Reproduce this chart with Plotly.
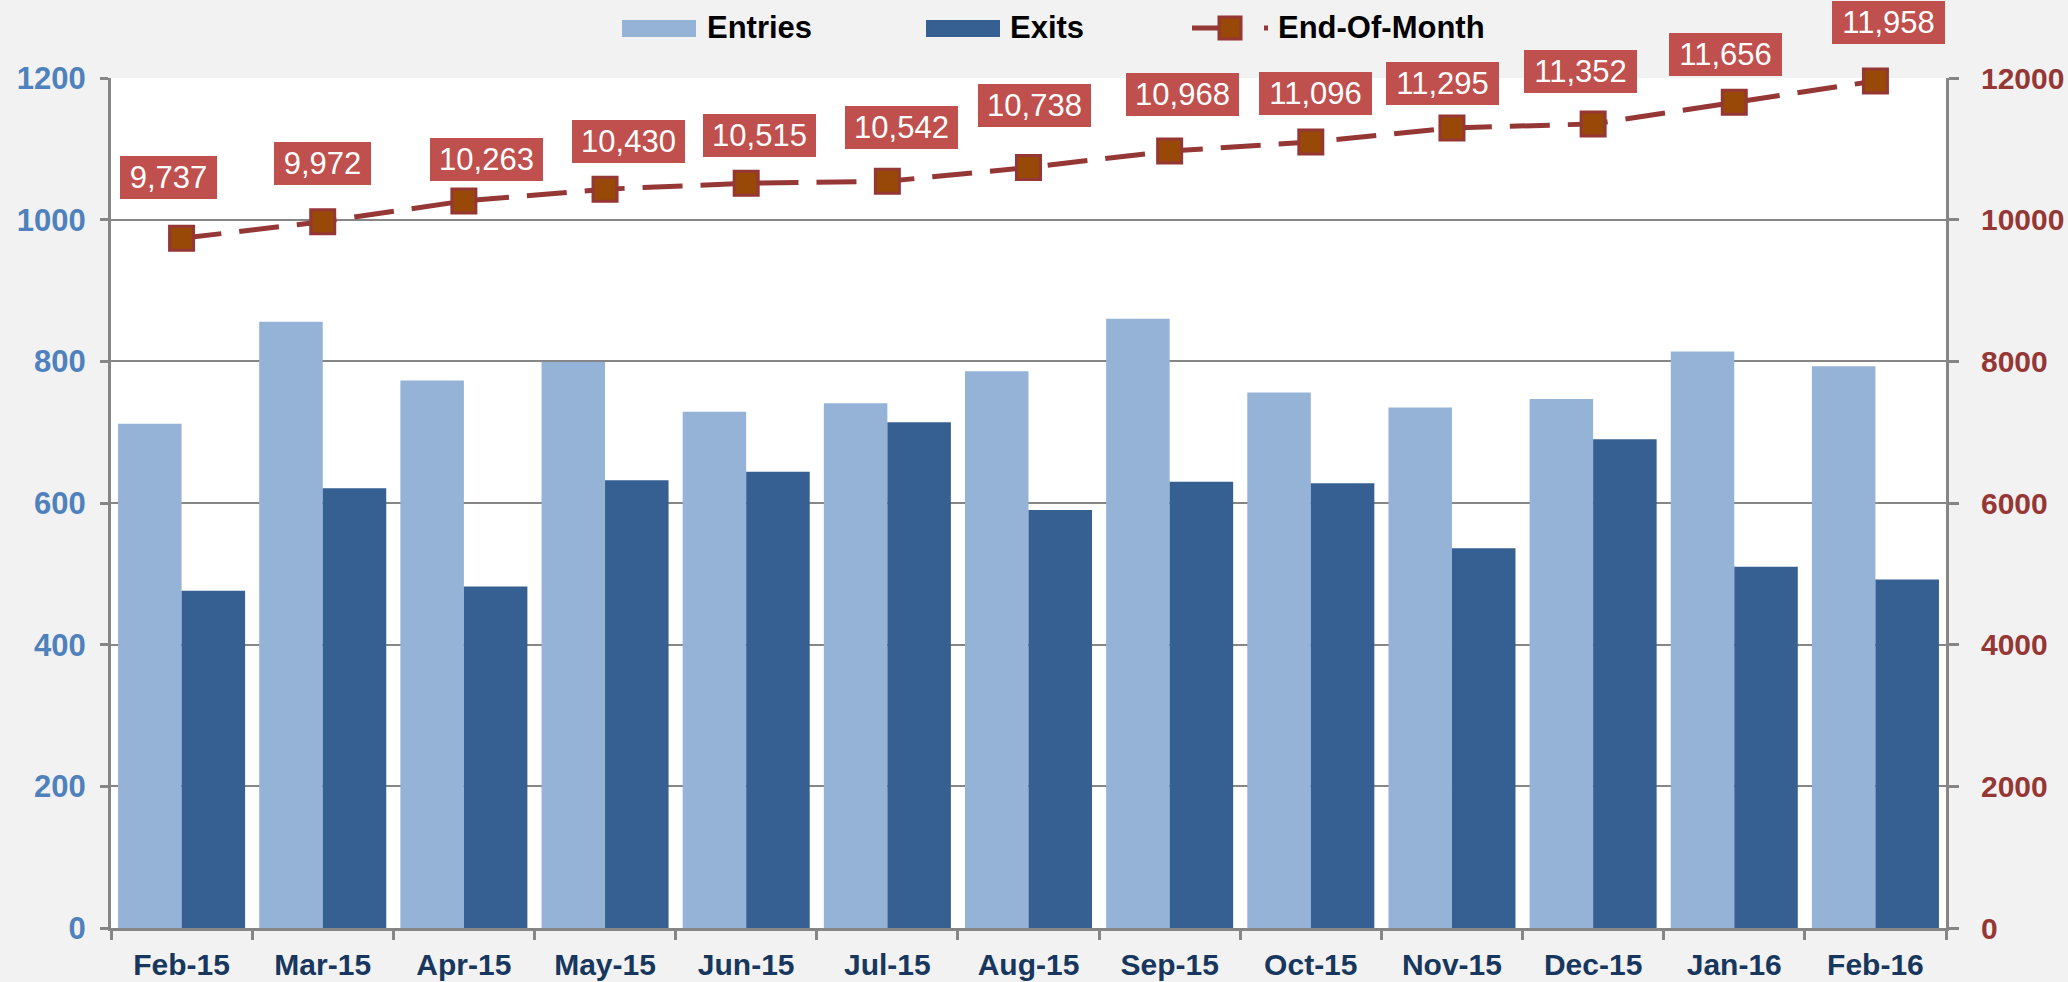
import plotly.graph_objects as go

# ---------------- data ----------------
months = ["Feb-15", "Mar-15", "Apr-15", "May-15", "Jun-15", "Jul-15", "Aug-15",
          "Sep-15", "Oct-15", "Nov-15", "Dec-15", "Jan-16", "Feb-16"]
entries = [712, 856, 773, 799, 729, 741, 786, 860, 756, 735, 747, 814, 793]
exits = [476, 621, 482, 632, 644, 714, 590, 630, 628, 536, 690, 510, 492]
end_of_month = [9737, 9972, 10263, 10430, 10515, 10542, 10738, 10968, 11096,
                11295, 11352, 11656, 11958]

# label placement offsets (pixels) for the End-Of-Month data labels
label_dx = [-13, 0, 23, 23, 13, 14, 6, 13, 5, -9, -13, -9, 13]
label_dy = [61, 58, 42, 48, 48, 54, 62, 57, 49, 44, 52, 48, 58]

# ---------------- layout constants ----------------
W, H = 2068, 982
ML, MR, MT, MB = 111, 122, 78, 54
FONT = "Liberation Sans, Arial, sans-serif"
C_ENTRIES = "#95B3D7"
C_EXITS = "#366092"
C_LINE = "#953735"
C_MARK = "#984807"
C_LABEL = "#C0504D"
C_GRID = "#868686"


def px2x(px):
    return (px - ML) / (W - ML - MR)


def py2y(py):
    return (H - MB - py) / (H - MT - MB)


fig = go.Figure()
fig.add_trace(go.Bar(x=months, y=entries, name="Entries",
                     marker=dict(color=C_ENTRIES, line=dict(width=0)),
                     showlegend=False))
fig.add_trace(go.Bar(x=months, y=exits, name="Exits",
                     marker=dict(color=C_EXITS, line=dict(width=0)),
                     showlegend=False))
fig.add_trace(go.Scatter(x=months, y=end_of_month, name="End-Of-Month", yaxis="y2",
                         mode="lines+markers",
                         line=dict(color=C_LINE, width=5, dash="40px,18px"),
                         marker=dict(symbol="square", size=24, color=C_MARK,
                                     line=dict(color=C_LINE, width=3)),
                         showlegend=False, cliponaxis=False))

annotations = []
for m, v, dx, dy in zip(months, end_of_month, label_dx, label_dy):
    txt = f"{v:,}"
    annotations.append(dict(
        x=m, y=v, xref="x", yref="y2", text=txt, showarrow=False,
        xshift=dx, yshift=dy, bgcolor=C_LABEL, borderpad=6, borderwidth=0,
        width=101 if len(txt) > 5 else 85, height=31,
        font=dict(family=FONT, size=31, color="white")))

# ---------- manual legend ----------
shapes = []
leg_y = 28
# Entries
shapes.append(dict(type="rect", xref="paper", yref="paper",
                   x0=px2x(622), x1=px2x(696), y0=py2y(37), y1=py2y(20),
                   fillcolor=C_ENTRIES, line=dict(width=0)))
annotations.append(dict(x=px2x(705), y=py2y(leg_y), xref="paper", yref="paper",
                        xanchor="left", yanchor="middle", showarrow=False,
                        text="<b>Entries</b>", font=dict(family=FONT, size=31, color="black")))
# Exits
shapes.append(dict(type="rect", xref="paper", yref="paper",
                   x0=px2x(926), x1=px2x(1000), y0=py2y(37), y1=py2y(20),
                   fillcolor=C_EXITS, line=dict(width=0)))
annotations.append(dict(x=px2x(1008), y=py2y(leg_y), xref="paper", yref="paper",
                        xanchor="left", yanchor="middle", showarrow=False,
                        text="<b>Exits</b>", font=dict(family=FONT, size=31, color="black")))
# End-Of-Month
shapes.append(dict(type="line", xref="paper", yref="paper",
                   x0=px2x(1192), x1=px2x(1236), y0=py2y(leg_y), y1=py2y(leg_y),
                   line=dict(color=C_LINE, width=5)))
shapes.append(dict(type="line", xref="paper", yref="paper",
                   x0=px2x(1264), x1=px2x(1268), y0=py2y(leg_y), y1=py2y(leg_y),
                   line=dict(color=C_LINE, width=5)))
shapes.append(dict(type="rect", xref="paper", yref="paper",
                   x0=px2x(1219), x1=px2x(1241), y0=py2y(leg_y + 11), y1=py2y(leg_y - 11),
                   fillcolor=C_MARK, line=dict(color=C_LINE, width=3)))
annotations.append(dict(x=px2x(1276), y=py2y(leg_y), xref="paper", yref="paper",
                        xanchor="left", yanchor="middle", showarrow=False,
                        text="<b>End-Of-Month</b>", font=dict(family=FONT, size=31, color="black")))

fig.update_layout(
    width=W, height=H,
    margin=dict(l=ML, r=MR, t=MT, b=MB, pad=0),
    paper_bgcolor="#F2F2F2", plot_bgcolor="white",
    barmode="group", bargap=0.1, bargroupgap=0,
    showlegend=False,
    annotations=annotations, shapes=shapes,
    xaxis=dict(type="category", range=[-0.5, len(months) - 0.5],
               showline=True, linecolor=C_GRID, linewidth=3,
               ticks="outside", tickson="boundaries", ticklen=9, tickwidth=3,
               tickcolor=C_GRID, showgrid=False, automargin=False, ticklabelstandoff=8,
               tickfont=dict(family=FONT, size=30, color="#17375E", weight="bold")),
    yaxis=dict(range=[0, 1200], dtick=200, showline=True, linecolor=C_GRID, linewidth=3,
               ticks="outside", ticklen=8, tickwidth=3, tickcolor=C_GRID,
               showgrid=True, gridcolor=C_GRID, gridwidth=2, zeroline=False,
               automargin=False, ticklabelstandoff=8,
               tickfont=dict(family=FONT, size=31, color="#4F81BD", weight="bold")),
    yaxis2=dict(range=[0, 12000], dtick=2000, tickformat="d", overlaying="y", side="right",
                showline=True, linecolor=C_GRID, linewidth=3,
                ticks="outside", ticklen=10, tickwidth=3, tickcolor=C_GRID,
                showgrid=False, zeroline=False, automargin=False, ticklabelstandoff=16,
                tickfont=dict(family=FONT, size=30, color=C_LINE, weight="bold")),
)

fig.write_html("out.html", config={"displayModeBar": False},
               post_script="document.body.style.margin='0';document.body.style.overflow='hidden';")
